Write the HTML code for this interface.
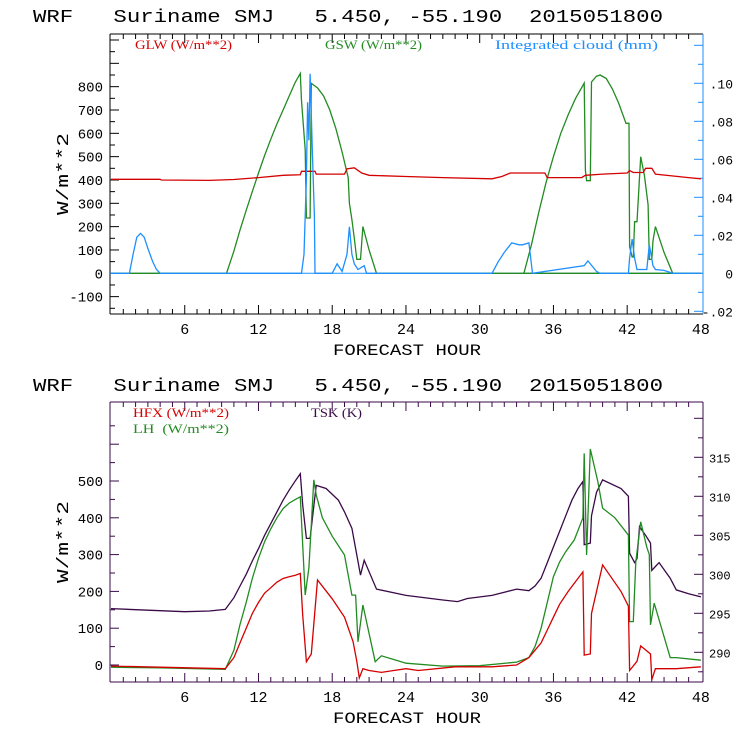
<!DOCTYPE html>
<html><head><meta charset="utf-8"><style>
body{margin:0;background:#fff}
svg{display:block;font-family:"Liberation Mono",monospace}
text{white-space:pre}
</style></head><body>
<svg id="c" width="740" height="740" xmlns="http://www.w3.org/2000/svg"></svg>
<script>
// ---------- DATA ----------
const glwHours=[0,4,4.1,8,10,12,14,15.4,15.5,16.6,16.7,19.0,19.2,19.8,20.4,21,24,27,31,31.8,32.5,35.3,35.5,38.3,38.6,40,42,42.2,42.5,43.3,43.5,44,44.3,47,48];
const glwVals=[403,403,400,398,402,410,420,422,437,437,425,425,448,452,430,420,415,410,405,415,430,430,410,410,420,425,430,440,432,432,450,450,425,410,405];
const gswHours=[0,9.4,10,10.5,11,11.5,12,12.5,13,13.5,14,14.5,15,15.4,15.5,15.8,15.9,16.0,16.2,16.3,16.8,17.3,17.8,18.3,18.8,19.3,19.4,19.6,19.8,20.0,20.3,20.5,21.0,21.6,48];
const gswVals=[0,0,95,185,270,350,430,505,575,640,700,760,820,857,740,530,237,237,237,814,795,760,700,620,520,410,300,230,150,60,60,200,100,0,0];
const gsw2Hours=[33.6,34.2,34.8,35.4,36,36.6,37.2,37.8,38.5,38.6,38.7,39.0,39.1,39.5,39.8,40.3,40.8,41.3,41.9,42.15,42.2,42.4,42.5,42.6,42.8,43.1,43.4,43.7,43.8,44.0,44.1,44.3,45.0,45.7,48];
const gsw2Vals=[0,120,260,390,500,600,680,750,815,440,397,397,820,845,850,835,790,730,643,643,114,70,70,221,221,500,420,293,60,60,140,200,90,0,0];
const cloudHours=[0,1.5,1.8,2.1,2.4,2.7,3.0,3.4,3.7,4.0,15.5,15.7,15.9,16.0,16.1,16.2,16.4,16.55,16.6,18.0,18.4,18.8,19.2,19.4,19.6,19.8,20.1,20.6,20.8,31.0,31.5,32.0,32.6,33.2,33.5,34.0,34.3,38.5,38.8,39.5,39.8,42.1,42.2,42.4,42.6,42.8,43.6,43.8,44.1,44.3,45.0,45.7,48];
const cloudVals=[0,0,0.01,0.019,0.021,0.019,0.013,0.006,0.002,0,0,0.01,0.05,0.09,0.07,0.105,0.06,0.03,0,0,0.005,0.001,0.01,0.0245,0.01,0.005,0.002,0.004,0,0,0.006,0.011,0.016,0.015,0.015,0.016,0,0.004,0.0065,0.001,0,0,0.008,0.018,0.008,0.002,0.002,0.015,0.004,0.002,0.0015,0,0];
const tskHours=[0,3,6,8,9.3,10,10.5,11,11.5,12,12.5,13,13.5,14,14.5,15,15.4,15.6,15.9,16.2,16.7,17.5,18.5,19,19.6,20.3,20.6,21.6,24,27,28.2,29,31,33,34,34.5,35,35.5,36,36.5,37,37.5,38,38.4,38.5,39.0,39.1,39.5,40.0,41.5,42.1,42.2,42.6,42.8,43.0,43.5,43.9,44.0,44.3,44.6,45.5,46.0,47,48];
const tskVals=[295.6,295.4,295.2,295.3,295.5,297,298.5,300,301.7,303.3,305,306.5,308,309.5,310.8,312,312.9,308.9,304.6,304.6,311.4,311,309.5,308,305.9,299.9,301.8,298.1,297.3,296.7,296.5,296.9,297.3,298.1,297.9,298.5,299.5,301.5,303.5,305.5,307.5,309.5,311,311.9,303.8,304,307.5,310.5,312.1,311,310,302.7,301.5,302,306.1,305,304,300.5,301,301.5,299.5,298,297.5,297.1];
const lhHours=[0,4,9.3,10,10.5,11,11.5,12,12.5,13,13.5,14,14.5,15,15.4,15.6,15.8,16.1,16.5,16.7,17.2,18,19.0,19.6,19.9,20.1,20.5,21.5,22,23,24,27,30,33,34,34.5,35,35.5,36,36.5,37,37.7,38.4,38.5,38.7,39.0,39.6,40.0,41,42.1,42.2,42.5,42.7,43.1,43.6,43.8,43.9,44.2,45.5,46,48];
const lhVals=[-6,-8,-12,40,110,170,235,290,335,370,400,425,440,450,457,326,190,264,503,462,400,350,299,190,190,63,163,9,25,15,5,-3,-2,8,20,50,100,170,240,280,308,340,400,575,299,587,500,426,400,353,118,118,280,389,320,300,109,168,20,20,13];
const hfxHours=[0,4,9.3,10,10.5,11,11.5,12,12.5,13,13.5,14,14.5,15,15.4,15.6,15.9,16.3,16.8,18,19.0,19.7,20.0,20.2,20.5,21,22,23,24,25,28,31,33,34,35,35.5,36,36.5,37.2,38.4,38.5,39.0,39.1,40.0,41.5,42.1,42.2,42.8,43.1,43.9,44.0,44.3,46,48];
const hfxVals=[-3,-6,-10,20,60,100,140,170,195,210,225,235,240,244,249,136,9,30,231,180,130,63,10,-35,-10,-15,-20,-15,-10,-15,-5,-5,0,20,60,95,130,165,200,253,27,30,140,272,200,160,-15,10,52,30,-40,-10,-10,-5];
const xTicks=[6,12,18,24,30,36,42,48];
const topLeftTicks=[-100,0,100,200,300,400,500,600,700,800];
const topRightTicks=[-0.02,0,0.02,0.04,0.06,0.08,0.10];
const topRightLabels=["-.02","0",".02",".04",".06",".08",".10"];
const botLeftTicks=[0,100,200,300,400,500];
const botRightTicks=[290,295,300,305,310,315];

// ---------- AXES ----------
const X0=111, XS=12.29, L=110, R=703;
const xs=h=>X0+h*XS;
const topY=v=>273.3-v*0.2333;
const topYR=v=>273.3-v*1900;
const botY=v=>665-v*0.368;
const botYR=v=>652.3-(v-290)*7.8;
const svg=document.getElementById('c');
const NS='http://www.w3.org/2000/svg';
function mk(tag,attrs,name,parent){const e=document.createElementNS(NS,tag);for(const k in attrs)e.setAttribute(k,attrs[k]);


(parent||svg).appendChild(e);return e;}
function txt(s,x,y,opt,name){const e=mk('text',Object.assign({x:x,y:y},opt),name);e.textContent=s;return e;}
function line(x1,y1,x2,y2,col,name,w){return mk('line',{x1:x1,y1:y1,x2:x2,y2:y2,stroke:col,'stroke-width':w||1},name);}
function series(hours,vals,yf,col,name){let d='';for(let i=0;i<hours.length;i++){d+=(i?'L':'M')+xs(hours[i]).toFixed(1)+' '+yf(vals[i]).toFixed(1);}
return mk('path',{d:d,fill:'none',stroke:col,'stroke-width':1.3,'stroke-linejoin':'miter'},name);}

const RED='#d40000',GRN='#228b22',BLU='#1e8fff',PUR='#3a0a48';

function panel(top,bot,axisCol,rightCol,titleY,prefix){
  txt('WRF   Suriname SMJ   5.450, -55.190  2015051800',33,titleY,{'font-size':18,textLength:630,lengthAdjust:'spacingAndGlyphs',fill:'#000'},prefix+'-title');
  line(L,top,R,top,axisCol,prefix+'-top-axis');
  line(L,bot,R,bot,axisCol,prefix+'-x-axis');
  line(L,top,L,bot,axisCol,prefix+'-left-axis');
  line(R,top,R,bot,rightCol,prefix+'-right-axis');
  for(let h=1;h<48;h++){const x=xs(h),len=h%6===0?9:5;
    line(x,bot,x,bot-len,axisCol,prefix+'-x-tick');line(x,top,x,top+len,axisCol,prefix+'-x-tick-top');}
  xTicks.forEach(h=>{txt(String(h),xs(h),bot+20,{'font-size':15,'text-anchor':'middle',fill:'#000'},prefix+'-x-tick-label');});
  txt('FORECAST HOUR',407,bot+41,{'font-size':16,'text-anchor':'middle',textLength:148,lengthAdjust:'spacingAndGlyphs',fill:'#000'},prefix+'-x-axis-title');
  txt('W/m**2',68,(top+bot)/2,{'font-size':17,'text-anchor':'middle',transform:'rotate(-90 68 '+(top+bot)/2+')',textLength:82,lengthAdjust:'spacingAndGlyphs',fill:'#000'},prefix+'-y-axis-title');
}

// Top panel
panel(34,314,'#000',BLU,22,'top');
for(let v=-150;v<=1000;v+=50){const y=topY(v);if(y<34||y>314)continue;line(L,y,L+(v%100===0?9:5),y,'#000','top-y-tick');}
topLeftTicks.forEach(v=>txt(String(v),103,topY(v)+5,{'font-size':14,'text-anchor':'end',fill:'#000'},'top-y-tick-label'));
for(let v=-0.02;v<=0.125;v+=0.01){const y=topYR(v);if(y<34||y>314)continue;line(R,y,R-(Math.round(v*100)%2===0?9:5),y,BLU,'top-right-tick');}
topRightTicks.forEach((v,i)=>txt(topRightLabels[i],733,topYR(v)+5,{'font-size':13,'text-anchor':'end',fill:'#000'},'top-right-tick-label'));
line(L,topY(0),R,topY(0),BLU,'top-zero-line');
series(gswHours,gswVals,topY,GRN,'gsw-line-day1');
series(gsw2Hours,gsw2Vals,topY,GRN,'gsw-line-day2');
series(glwHours,glwVals,topY,RED,'glw-line');
series(cloudHours,cloudVals,topYR,BLU,'cloud-line');
const lf={'font-size':13,'font-family':'Liberation Serif, serif'};
txt('GLW (W/m**2)',135,49,Object.assign({fill:RED,textLength:97,lengthAdjust:'spacingAndGlyphs'},lf),'legend-glw');
txt('GSW (W/m**2)',325,49,Object.assign({fill:GRN,textLength:97,lengthAdjust:'spacingAndGlyphs'},lf),'legend-gsw');
txt('Integrated cloud (mm)',495,49,Object.assign({fill:BLU,textLength:163,lengthAdjust:'spacingAndGlyphs'},lf),'legend-cloud');

// Bottom panel
panel(402,682,PUR,PUR,391,'bottom');
for(let v=-50;v<=650;v+=50){const y=botY(v);if(y<402||y>682)continue;line(L,y,L+(v%100===0?9:5),y,PUR,'bottom-y-tick');}
botLeftTicks.forEach(v=>txt(String(v),103,botY(v)+5,{'font-size':14,'text-anchor':'end',fill:'#000'},'bottom-y-tick-label'));
for(let v=287.5;v<=322.5;v+=2.5){const y=botYR(v);if(y<402||y>682)continue;line(R,y,R-(v%5===0?9:5),y,PUR,'bottom-right-tick');}
botRightTicks.forEach(v=>txt(String(v),709,botYR(v)+5,{'font-size':12,fill:'#000'},'bottom-right-tick-label'));
series(tskHours,tskVals,botYR,PUR,'tsk-line');
series(lhHours,lhVals,botY,GRN,'lh-line');
series(hfxHours,hfxVals,botY,RED,'hfx-line');
txt('HFX (W/m**2)',133,417,Object.assign({fill:RED,textLength:96,lengthAdjust:'spacingAndGlyphs'},lf),'legend-hfx');
txt('LH  (W/m**2)',133,433,Object.assign({fill:GRN,textLength:96,lengthAdjust:'spacingAndGlyphs'},lf),'legend-lh');
txt('TSK (K)',311,417,Object.assign({fill:PUR,textLength:51,lengthAdjust:'spacingAndGlyphs'},lf),'legend-tsk');
</script>
</body></html>
